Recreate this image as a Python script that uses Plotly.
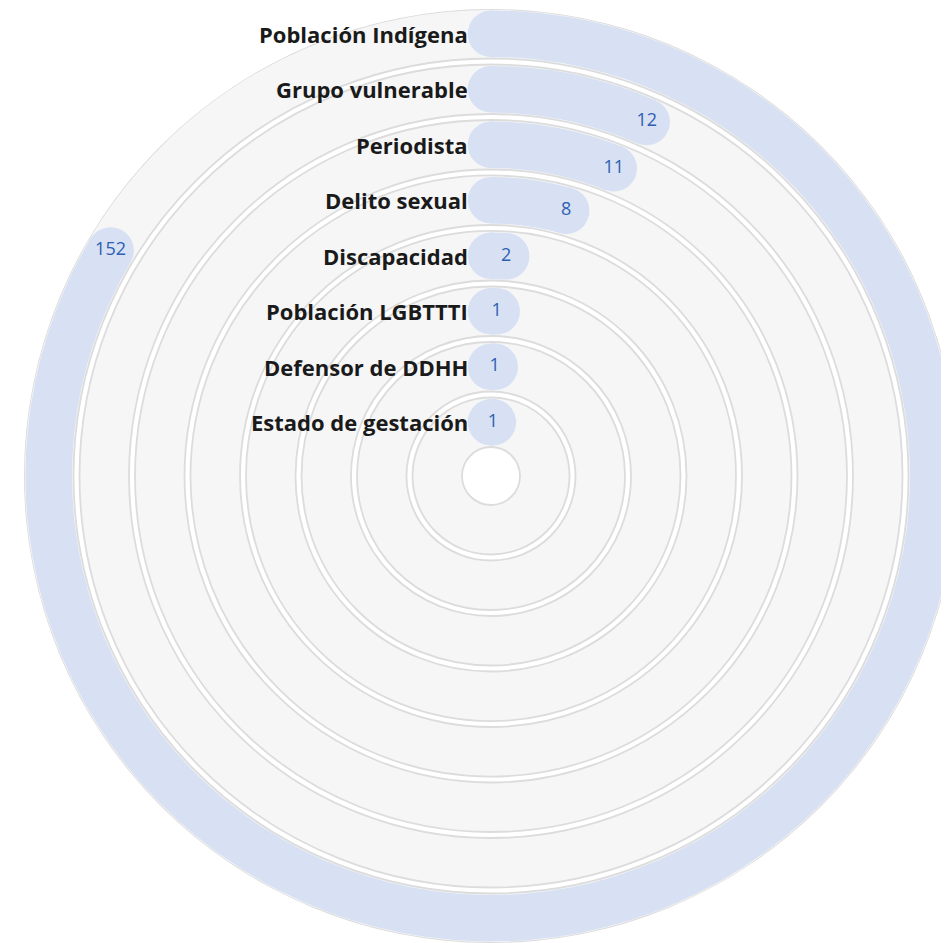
import plotly.graph_objects as go

# ---------------- data ----------------
categories = [
    "Población Indígena",
    "Grupo vulnerable",
    "Periodista",
    "Delito sexual",
    "Discapacidad",
    "Población LGBTTTI",
    "Defensor de DDHH",
    "Estado de gestación",
]
values = [152, 12, 11, 8, 2, 1, 1, 1]
scale_max = 182  # value that corresponds to a full circle

# ---------------- geometry (radial units) ----------------
W, H = 962, 942
R_OUTER = 467.0
PITCH = 55.5
THICK = 49.5
n = len(categories)

track_outer = [R_OUTER - i * PITCH for i in range(n)]
track_inner = [o - THICK for o in track_outer]
mids = [o - THICK / 2 for o in track_outer]
angles = [v / scale_max * 360 for v in values]

# polar placement (figure pixels); page has an 8px body margin
CX, CY = 483.0, 468.0
RAD = 467.0
dom_x = [(CX - RAD) / W, (CX + RAD) / W]
dom_y = [1 - (CY + RAD) / H, 1 - (CY - RAD) / H]
k = RAD / R_OUTER

BLUE = "#d7e1f3"
TEXT_BLUE = "#2d5fb2"

fig = go.Figure()

# background tracks
fig.add_trace(go.Barpolar(
    r=[THICK] * n,
    base=track_inner,
    theta=[180] * n,
    width=[360] * n,
    marker=dict(color="#f6f6f6", line=dict(color="#dcdcdc", width=1.8)),
    hoverinfo="skip",
    showlegend=False,
))

# value bars
fig.add_trace(go.Barpolar(
    r=[THICK - 3] * n,
    base=[b + 1.5 for b in track_inner],
    theta=[a / 2 for a in angles],
    width=angles,
    marker=dict(color=BLUE, line=dict(width=0)),
    hoverinfo="skip",
    showlegend=False,
))

# rounded caps at both ends
cap_d = (THICK - 3) * k
fig.add_trace(go.Scatterpolar(
    r=mids + mids,
    theta=[0] * n + angles,
    mode="markers",
    marker=dict(size=cap_d, color=BLUE, line=dict(width=0)),
    hoverinfo="skip",
    showlegend=False,
))

# value labels
fig.add_trace(go.Scatterpolar(
    r=mids,
    theta=angles,
    mode="text",
    text=[str(v) for v in values],
    textposition="middle center",
    textfont=dict(color=TEXT_BLUE, size=18, family="Open Sans"),
    hoverinfo="skip",
    showlegend=False,
))

# category labels (annotations in paper coords)
for cat, m in zip(categories, mids):
    y_px = CY - m * k
    fig.add_annotation(
        x=(CX - 21) / W,
        y=1 - y_px / H,
        xref="paper", yref="paper",
        xanchor="right", yanchor="middle",
        text=cat,
        showarrow=False,
        font=dict(family="Open Sans", size=22, color="#1a1a1a", weight="bold"),
    )

fig.update_layout(
    width=W, height=H,
    margin=dict(l=0, r=0, t=0, b=0),
    paper_bgcolor="white",
    plot_bgcolor="white",
    showlegend=False,
    polar=dict(
        domain=dict(x=dom_x, y=dom_y),
        bgcolor="white",
        barmode="overlay",
        radialaxis=dict(range=[0, R_OUTER], visible=False, showgrid=False),
        angularaxis=dict(
            rotation=90, direction="clockwise", thetaunit="degrees",
            visible=False, showgrid=False, showline=False, ticks="",
        ),
    ),
)

fig.write_html("out.html")
